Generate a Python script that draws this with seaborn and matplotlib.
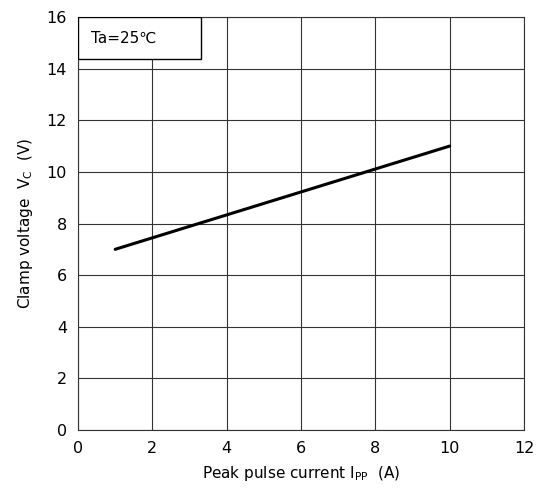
import matplotlib
matplotlib.use("Agg")
import matplotlib.pyplot as plt
import seaborn as sns
import pandas as pd
from matplotlib.patches import Rectangle

# data
current_a = [1, 10]
clamp_v = [7.0, 11.0]
x_ticks = [0, 2, 4, 6, 8, 10, 12]
y_ticks = [0, 2, 4, 6, 8, 10, 12, 14, 16]
note = "Ta=25\u2103"

sns.set_style("white")
plt.rcParams["font.family"] = ["DejaVu Sans", "Noto Sans CJK JP"]
plt.rcParams["mathtext.fontset"] = "dejavusans"
plt.rcParams["text.color"] = "black"
plt.rcParams["axes.labelcolor"] = "black"
plt.rcParams["xtick.color"] = "black"
plt.rcParams["ytick.color"] = "black"

df = pd.DataFrame({"I": current_a, "V": clamp_v})

fig = plt.figure(figsize=(5.47, 5.0), dpi=100)
ax = fig.add_axes([0.1426, 0.14, 0.8154, 0.826])

sns.lineplot(data=df, x="I", y="V", ax=ax, color="black", linewidth=2.2)

ax.set_xlim(x_ticks[0], x_ticks[-1])
ax.set_ylim(y_ticks[0], y_ticks[-1])
ax.set_xticks(x_ticks)
ax.set_yticks(y_ticks)
ax.grid(True, color="#333333", linewidth=0.8)
ax.tick_params(labelsize=11.5, length=0, pad=8)
for s in ax.spines.values():
    s.set_color("#333333")
    s.set_linewidth(0.8)

ax.set_xlabel(r"Peak pulse current I$_{\mathrm{PP}}$  (A)", fontsize=11, labelpad=6)
ax.set_ylabel(r"Clamp voltage  V$_{\mathrm{C}}$  (V)", fontsize=11, labelpad=8)

# condition box in upper left
ax.add_patch(Rectangle((0, 0.898), 0.276, 0.102, transform=ax.transAxes,
                       facecolor="white", edgecolor="black", linewidth=1.0, zorder=5))
ax.text(0.03, 0.949, note, transform=ax.transAxes, fontsize=11,
        va="center", ha="left", zorder=6)

fig.savefig("out.png", dpi=100)
